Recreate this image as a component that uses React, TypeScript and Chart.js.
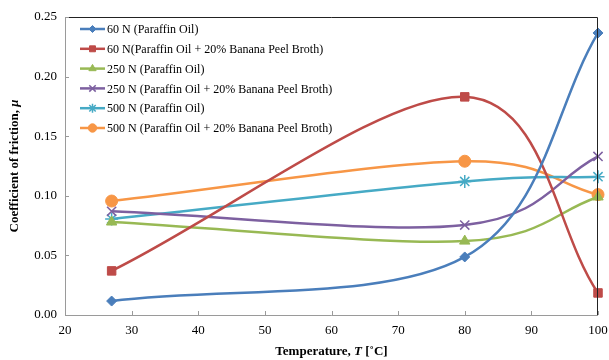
import React, { useEffect, useRef } from "react";
import { Chart, registerables } from "chart.js";
import { drawPoint } from "chart.js/helpers";

Chart.register(...registerables);

const temperatures = [27, 80, 100];
const seriesLabels = [
  "60 N (Paraffin Oil)",
  "60 N(Paraffin Oil + 20% Banana Peel Broth)",
  "250 N (Paraffin Oil)",
  "250 N (Paraffin Oil + 20% Banana Peel Broth)",
  "500 N (Paraffin Oil)",
  "500 N (Paraffin Oil + 20% Banana Peel Broth)",
];
const s60Oil = [0.0117, 0.0487, 0.2366];
const s60Broth = [0.037, 0.183, 0.0185];
const s250Oil = [0.078, 0.062, 0.099];
const s250Broth = [0.087, 0.0755, 0.133];
const s500Oil = [0.0805, 0.112, 0.116];
const s500Broth = [0.0956, 0.129, 0.101];
const yTicks = [0, 0.05, 0.1, 0.15, 0.2, 0.25];
const xTicks = [20, 30, 40, 50, 60, 70, 80, 90, 100];
const xTitleParts = [["Temperature, ", false], ["T", true], [" [˚C]", false]] as [string, boolean][];
const yTitleParts = [["Coefficient of friction, ", false], ["μ", true]] as [string, boolean][];

const colors = ["#4A7EBB", "#BE4B48", "#98B954", "#7D60A0", "#46AAC5", "#F79646"];
const styles = ["rectRot", "rect", "triangle", "crossRot", "star", "circle"];
const radii = [5, 6, 6, 6.5, 6.5, 6];
const FONT = "'Liberation Serif', 'Times New Roman', serif";

function drawParts(ctx: CanvasRenderingContext2D, parts: [string, boolean][], cx: number, cy: number) {
  const fontOf = (it: boolean) => `${it ? "italic " : ""}bold 13px ${FONT}`;
  let total = 0;
  for (const [t, it] of parts) {
    ctx.font = fontOf(it);
    total += ctx.measureText(t).width;
  }
  let x = cx - total / 2;
  ctx.textAlign = "left";
  ctx.textBaseline = "middle";
  for (const [t, it] of parts) {
    ctx.font = fontOf(it);
    ctx.fillText(t, x, cy);
    x += ctx.measureText(t).width;
  }
}

// Excel-like smoothing: interior tangents (P[i+1]-P[i-1])/6, end controls 1/3 toward neighbour
const excelSmooth = {
  id: "excelSmooth",
  beforeDatasetDraw(chart: any, args: any) {
    const meta = args.meta;
    const line = meta.dataset;
    if (!line) return;
    line.updateControlPoints(chart.chartArea, "x");
    const pts = meta.data;
    const n = pts.length;
    for (let i = 0; i < n; i++) {
      const p = pts[i];
      if (i > 0 && i < n - 1) {
        const a = pts[i - 1];
        const b = pts[i + 1];
        const tx = (b.x - a.x) / 6;
        const ty = (b.y - a.y) / 6;
        p.cp1x = p.x - tx;
        p.cp1y = p.y - ty;
        p.cp2x = p.x + tx;
        p.cp2y = p.y + ty;
      } else if (i === 0) {
        const b = pts[1];
        p.cp2x = p.x + (b.x - p.x) / 3;
        p.cp2y = p.y + (b.y - p.y) / 3;
        p.cp1x = p.x;
        p.cp1y = p.y;
      } else {
        const a = pts[i - 1];
        p.cp1x = p.x - (p.x - a.x) / 3;
        p.cp1y = p.y - (p.y - a.y) / 3;
        p.cp2x = p.x;
        p.cp2y = p.y;
      }
    }
    line._pointsUpdated = true;
  },
};

const frame = {
  id: "frame",
  afterDatasetsDraw(chart: any) {
    const { ctx, chartArea: a, scales } = chart;
    ctx.save();
    ctx.lineWidth = 1;
    ctx.strokeStyle = "#222";
    ctx.beginPath();
    ctx.moveTo(a.left, a.top + 0.5);
    ctx.lineTo(a.right - 0.5, a.top + 0.5);
    ctx.lineTo(a.right - 0.5, a.bottom);
    ctx.stroke();
    ctx.strokeStyle = "#9a9a9a";
    ctx.beginPath();
    ctx.moveTo(a.left + 0.5, a.top);
    ctx.lineTo(a.left + 0.5, a.bottom + 0.5);
    ctx.lineTo(a.right, a.bottom + 0.5);
    ctx.stroke();
    ctx.beginPath();
    for (const v of yTicks) {
      const y = Math.round(scales.y.getPixelForValue(v)) + 0.5;
      ctx.moveTo(a.left, y);
      ctx.lineTo(a.left + 4, y);
    }
    for (const v of xTicks) {
      const x = Math.round(scales.x.getPixelForValue(v)) + 0.5;
      ctx.moveTo(x, a.bottom);
      ctx.lineTo(x, a.bottom - 4);
    }
    ctx.stroke();

    // axis titles
    ctx.fillStyle = "#000";
    drawParts(ctx, xTitleParts, (a.left + a.right) / 2, 352);
    ctx.save();
    ctx.translate(15, (a.top + a.bottom) / 2);
    ctx.rotate(-Math.PI / 2);
    drawParts(ctx, yTitleParts, 0, 0);
    ctx.restore();

    // legend inside plot area
    const x0 = a.left + 15;
    const y0 = a.top + 12;
    const rowH = 19.8;
    chart.data.datasets.forEach((ds: any, i: number) => {
      const y = y0 + i * rowH;
      ctx.strokeStyle = ds.borderColor;
      ctx.lineWidth = 2.5;
      ctx.beginPath();
      ctx.moveTo(x0, y);
      ctx.lineTo(x0 + 25, y);
      ctx.stroke();
      ctx.fillStyle = ds.pointBackgroundColor;
      ctx.strokeStyle = ds.pointBorderColor;
      ctx.lineWidth = ds.pointBorderWidth;
      drawPoint(ctx, { pointStyle: ds.pointStyle, radius: ds.pointRadius * 0.7, borderWidth: ds.pointBorderWidth, rotation: 0 } as any, x0 + 12.5, y);
      ctx.fillStyle = "#000";
      ctx.font = `12px ${FONT}`;
      ctx.textBaseline = "middle";
      ctx.textAlign = "left";
      ctx.fillText(ds.label, x0 + 27, y + 1);
    });
    ctx.restore();
  },
};

export default function App() {
  const ref = useRef<HTMLCanvasElement>(null);
  useEffect(() => {
    document.body.style.margin = "0";
    const series = [s60Oil, s60Broth, s250Oil, s250Broth, s500Oil, s500Broth];
    const chart = new Chart(ref.current!, {
      type: "line",
      data: {
        datasets: series.map((vals, i) => ({
          label: seriesLabels[i],
          data: temperatures.map((t, j) => ({ x: t, y: vals[j] })),
          borderColor: colors[i],
          backgroundColor: colors[i],
          pointBackgroundColor: colors[i],
          pointBorderColor: colors[i],
          pointStyle: styles[i] as any,
          pointRadius: radii[i],
          pointBorderWidth: i === 3 || i === 4 ? 1.5 : 1,
          borderWidth: 2.5,
          tension: 0.4,
          fill: false,
          clip: false as any,
        })),
      },
      options: {
        responsive: false,
        animation: false,
        layout: { padding: { left: 0, right: 11, top: 17, bottom: 0 } },
        plugins: { legend: { display: false }, tooltip: { enabled: false } },
        scales: {
          x: {
            type: "linear",
            min: 20,
            max: 100,
            grid: { display: false, drawTicks: false },
            border: { display: false },
            afterBuildTicks: (s: any) => {
              s.ticks = xTicks.map((v) => ({ value: v }));
            },
            afterFit: (s: any) => {
              s.height = 45;
              s.paddingLeft = 0;
              s.paddingRight = 0;
            },
            ticks: { color: "#000", font: { family: FONT, size: 13 }, padding: 8, maxRotation: 0 },
          },
          y: {
            min: 0,
            max: 0.25,
            grid: { display: false, drawTicks: false },
            border: { display: false },
            afterBuildTicks: (s: any) => {
              s.ticks = yTicks.map((v) => ({ value: v }));
            },
            afterFit: (s: any) => {
              s.width = 65;
              s.paddingTop = 0;
              s.paddingBottom = 0;
            },
            ticks: {
              color: "#000",
              font: { family: FONT, size: 13 },
              padding: 8,
              callback: (v: any) => Number(v).toFixed(2),
            },
          },
        },
      },
      plugins: [excelSmooth, frame],
    });
    return () => chart.destroy();
  }, []);
  return (
    <div style={{ position: "absolute", left: 0, top: 0, width: 609, height: 360, background: "#fff" }}>
      <canvas ref={ref} width={609} height={360} />
    </div>
  );
}
